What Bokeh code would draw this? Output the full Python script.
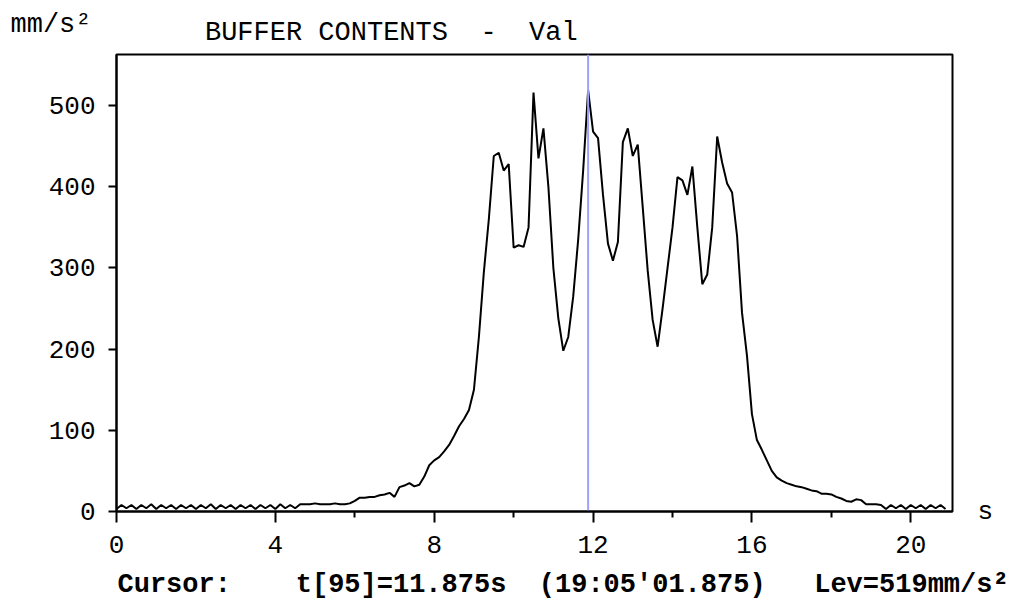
from bokeh.plotting import figure
from bokeh.models import Range1d, FixedTicker, Title, LinearAxis
from bokeh.embed import file_html
from bokeh.resources import INLINE

# ---- data -------------------------------------------------------------
sample_interval = 0.125  # s  (t[95] = 11.875 s)

acc_start = [3, 8, 4, 8, 3, 8, 4, 9, 3, 8, 4, 8, 3, 8, 4, 8, 3, 8, 4, 9,
             3, 8, 4, 8, 3, 8, 4, 8, 3, 8, 4, 8, 3, 9, 4, 8, 4]
acc_lead = [9, 9, 9, 10, 9, 9, 9, 10, 9, 9, 10,
            13, 17, 17, 18, 18, 20, 21, 23, 18, 30, 32, 35, 31, 33]
acc_rise = [43, 57, 63, 67, 74, 82, 93, 105, 114, 125, 150, 215, 295, 360, 438, 442]
acc_peaks_a = [420, 428, 325, 328, 326, 350, 516, 435, 472, 400, 300, 238, 198,
               215, 265, 335, 420, 519, 468, 460]
acc_peaks_b = [390, 330, 309, 332, 455, 472, 438, 452, 375, 297, 236, 203, 250,
               300, 350, 412, 408, 390, 425, 350, 280, 292, 350, 462, 430, 404,
               393, 340, 245, 192]
acc_decay = [120, 88, 76, 63, 50, 42, 38, 35, 33, 31, 30, 28, 26, 25, 22, 22,
             21, 18, 16, 13, 12, 15, 14, 9, 9, 9, 8]
acc_end = [3, 8, 4, 8, 3, 8, 4, 8, 3, 8, 4, 8, 3]

values = acc_start + acc_lead + acc_rise + acc_peaks_a + acc_peaks_b + acc_decay + acc_end
times = [i * sample_interval for i in range(len(values))]

cursor_index = 95
cursor_time = 11.875
cursor_level = 519

x_min, x_max = 0, 21.05
y_min, y_max = 0, 563
x_major = [0, 4, 8, 12, 16, 20]
x_minor = [6, 10, 14, 18]
y_major = [0, 100, 200, 300, 400, 500]

NB = "\u00a0"
title_text = "BUFFER CONTENTS" + NB * 2 + "-" + NB * 2 + "Val"
y_unit = "mm/s\u00b2"
x_unit = "s"
status_text = ("Cursor:" + NB * 4 + "t[95]=11.875s" + NB * 2 + "(19:05'01.875)"
               + NB * 3 + "Lev=519mm/s\u00b2")

# ---- figure -----------------------------------------------------------
FONT = "Liberation Mono"
W, H = 1027, 611
FRAME_L, FRAME_R, FRAME_T, FRAME_B = 116, 952, 54, 511
p = figure(width=W, height=H, output_backend="svg", toolbar_location=None,
           x_range=Range1d(x_min, x_max), y_range=Range1d(y_min, y_max),
           min_border_left=FRAME_L, min_border_right=W - FRAME_R,
           min_border_top=FRAME_T, min_border_bottom=H - FRAME_B)
p.background_fill_color = "white"
p.border_fill_color = "white"
p.outline_line_color = "black"
p.outline_line_width = 2
p.outline_line_alpha = 1
p.grid.visible = False

p.line(times, values, line_color="black", line_width=2)
# cursor line
p.segment(x0=[cursor_time], y0=[y_min], x1=[cursor_time], y1=[y_max],
          line_color="#a0a0ff", line_width=2)

for ax in (p.xaxis[0], p.yaxis[0]):
    ax.axis_line_color = "black"
    ax.axis_line_width = 2
    ax.major_tick_line_color = "black"
    ax.minor_tick_line_color = "black"
    ax.major_tick_line_width = 2
    ax.minor_tick_line_width = 2
    ax.major_tick_in = 0
    ax.minor_tick_in = 0
    ax.major_label_text_font = FONT
    ax.major_label_text_font_size = "26px"
    ax.major_label_text_color = "black"

p.xaxis.ticker = FixedTicker(ticks=x_major, minor_ticks=x_minor)
p.xaxis.major_tick_out = 11
p.xaxis.minor_tick_out = 6
p.xaxis.major_label_standoff = 13

p.yaxis.ticker = FixedTicker(ticks=y_major, minor_ticks=[])
p.yaxis.major_tick_out = 8
p.yaxis.minor_tick_out = 0
p.yaxis.major_label_standoff = 13

# unit "s" at the right end of the time axis
unit_axis = LinearAxis(ticker=FixedTicker(ticks=[0], minor_ticks=[]),
                       major_label_overrides={0: x_unit},
                       axis_line_color=None, major_tick_line_color=None,
                       minor_tick_line_color=None, major_tick_out=0,
                       minor_tick_out=0, major_label_standoff=25,
                       major_label_text_font=FONT,
                       major_label_text_font_size="26px",
                       major_label_text_color="black")
p.add_layout(unit_axis, "right")

# top lines: y unit and buffer title (two lines of one title block)
p.title.text = y_unit + "\n" + NB * 12 + title_text
p.title.align = "left"
p.title.offset = 10 - FRAME_L
p.title.text_font = FONT
p.title.text_font_size = "27px"
p.title.text_font_style = "normal"
p.title.text_color = "black"
p.title.text_line_height = 0.27
p.title.standoff = 13

# status line below the time axis
p.add_layout(Title(text=status_text, align="left", offset=117 - FRAME_L,
                   text_font=FONT, text_font_size="27px",
                   text_font_style="bold", text_color="black", standoff=24),
             "below")

open("out.html", "w").write(file_html(p, INLINE))
